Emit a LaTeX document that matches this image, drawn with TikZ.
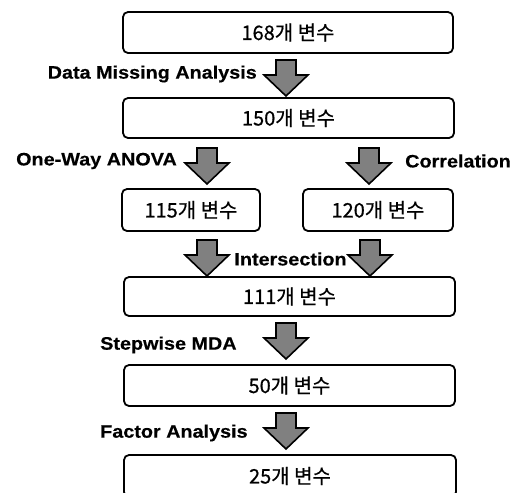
\documentclass[tikz,border=0pt]{standalone}
\usepackage{fontspec}
\setmainfont{Liberation Sans}
\newfontfamily\kor[FakeBold=0.6]{Noto Sans CJK KR}
\newfontfamily\labfont[FakeStretch=1.1,BoldFeatures={FakeBold=0.4}]{Liberation Sans}
\begin{document}
\begin{tikzpicture}[x=1pt,y=-1pt,
  box/.style={draw=black,line width=1.8pt,rounded corners=5pt,inner sep=0pt,
    font=\kor\fontsize{20}{20}\selectfont},
  lab/.style={inner sep=0pt,font=\labfont\bfseries\fontsize{18}{18}\selectfont},
  arrowstyle/.style={fill=black!50,draw=black,line width=1.6pt,line join=miter},
  blockarrow/.pic={\filldraw[arrowstyle] (-10,0) -- (10,0) -- (10,15) -- (22,15) -- (0,36) -- (-22,15) -- (-10,15) -- cycle;}
]
\useasboundingbox (0,0) rectangle (520,493);
% boxes
\node[box,minimum width=330pt,minimum height=41pt] (b1) at (288,32.5) {168개 변수};
\node[box,minimum width=331pt,minimum height=40pt] (b2) at (288.5,118) {150개 변수};
\node[box,minimum width=138pt,minimum height=42pt] (b3) at (191,210) {115개 변수};
\node[box,minimum width=150pt,minimum height=42pt] (b4) at (378,210) {120개 변수};
\node[box,minimum width=331pt,minimum height=39pt] (b5) at (289.5,296.5) {111개 변수};
\node[box,minimum width=331pt,minimum height=41pt] (b6) at (289.5,385.5) {50개 변수};
\node[box,minimum width=332pt,minimum height=42pt] (b7) at (290,476) {25개 변수};
% arrows
\coordinate (a1) at (286,60);
\coordinate (a2l) at (207,148);
\coordinate (a2r) at (369,148);
\coordinate (a3l) at (207,240);
\coordinate (a3r) at (370,240);
\coordinate (a4) at (286,323);
\coordinate (a5) at (286,413);
\foreach \a in {a1,a2l,a2r,a3l,a3r,a4,a5} \pic at (\a) {blockarrow};
% labels
\node[lab,anchor=east] (l1) at (257,74) {Data Missing Analysis};
\node[lab,anchor=east] (l2) at (177,161) {One-Way ANOVA};
\node[lab,anchor=west] (l3) at (405,161) {Correlation};
\node[lab] (l4) at (290.5,259) {Intersection};
\node[lab,anchor=west] (l5) at (100,345) {Stepwise MDA};
\node[lab,anchor=west] (l6) at (100,433) {Factor Analysis};
\end{tikzpicture}
\end{document}
